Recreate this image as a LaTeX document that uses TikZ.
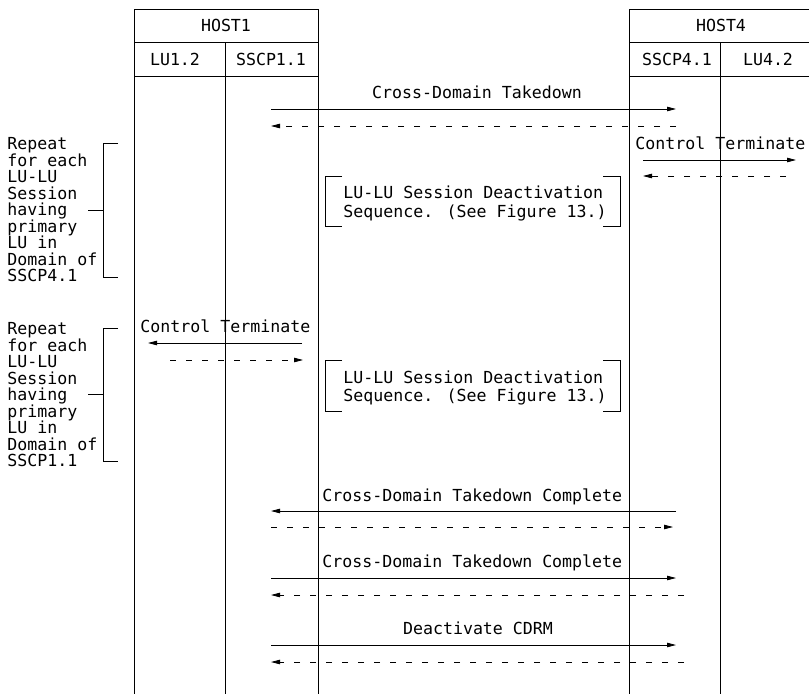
\documentclass[tikz,border=0pt]{standalone}
\usepackage{fontspec}
\newfontfamily\diafont{DejaVu Sans Mono}
\usetikzlibrary{arrows.meta}
\begin{document}
\begin{tikzpicture}[x=1pt,y=-1pt,
  line width=0.8pt,
  lbl/.style={font=\diafont\fontsize{16.6}{16.5}\selectfont, inner sep=0pt},
  blk/.style={lbl, align=left, anchor=north west},
  cell/.style={draw, minimum height=33.5pt, inner sep=0pt, line width=0.8pt},
  msg/.style={-{Triangle[length=9pt,width=4.5pt]}},
  reply/.style={msg, dash pattern=on 6pt off 10pt},
  brk/.style={line width=0.8pt},
]
\useasboundingbox (0,0) rectangle (809,694);

% ---------- header boxes ----------
\draw (134,9) rectangle (318,76);
\draw (134,42) -- (318,42);
\draw (225,42) -- (225,76);
\draw (818,9) -- (629,9) -- (629,76) -- (818,76);
\draw (629,42) -- (818,42);
\draw (720,42) -- (720,76);

\node[lbl, anchor=base] (host1) at (226,31.5) {HOST1};
\node[lbl, anchor=base] (lu12) at (175,65) {LU1.2};
\node[lbl, anchor=base] (sscp11) at (271,65) {SSCP1.1};
\node[lbl, anchor=base] (host4) at (721,31.5) {HOST4};
\node[lbl, anchor=base] (sscp41) at (677,65) {SSCP4.1};
\node[lbl, anchor=base] (lu42) at (768,65) {LU4.2};

% ---------- lifelines ----------
\coordinate (l1t) at (134,76);  \coordinate (l1b) at (134,694);
\coordinate (l2t) at (225,76);  \coordinate (l2b) at (225,694);
\coordinate (l3t) at (318,76);  \coordinate (l3b) at (318,694);
\coordinate (l4t) at (629,76);  \coordinate (l4b) at (629,694);
\coordinate (l5t) at (720,76);  \coordinate (l5b) at (720,694);
\draw (l1t) -- (l1b);
\draw (l2t) -- (l2b);
\draw (l3t) -- (l3b);
\draw (l4t) -- (l4b);
\draw (l5t) -- (l5b);

% ---------- Cross-Domain Takedown ----------
\node[lbl, anchor=base] (cdt) at (477,98) {Cross-Domain Takedown};
\coordinate (a1l) at (271,109); \coordinate (a1r) at (676,109);
\coordinate (a2l) at (271,126); \coordinate (a2r) at (676,126);
\draw[msg] (a1l) -- (a1r);
\draw[reply] (a2r) -- (a2l);

% ---------- Control Terminate (right) ----------
\node[lbl, anchor=base west] (ctr) at (635,149) {Control Terminate};
\coordinate (b1l) at (643,160); \coordinate (b1r) at (796,160);
\coordinate (b2l) at (643,176); \coordinate (b2r) at (786,176);
\draw[msg] (b1l) -- (b1r);
\draw[reply] (b2r) -- (b2l);

% ---------- left repeat text 1 ----------
\node[blk] (rep1) at (7,137) {Repeat\\for each\\LU-LU\\Session\\having\\primary\\LU in\\Domain of\\SSCP4.1};
\draw[brk] (118,143) -- (103,143) -- (103,277) -- (118,277);
\draw[brk] (88,210) -- (103,210);

% ---------- deactivation box 1 ----------
\node[blk, font=\diafont\fontsize{16.6}{18.5}\selectfont] (seq1) at (343,185.5) {LU-LU Session Deactivation\\Sequence. (See Figure 13.)};
\draw[brk] (342,176) -- (325,176) -- (325,226) -- (342,226);
\draw[brk] (603,176) -- (620,176) -- (620,226) -- (603,226);

% ---------- left repeat text 2 ----------
\node[blk] (rep2) at (7,322) {Repeat\\for each\\LU-LU\\Session\\having\\primary\\LU in\\Domain of\\SSCP1.1};
\draw[brk] (118,328) -- (103,328) -- (103,461) -- (118,461);
\draw[brk] (88,394) -- (103,394);

% ---------- Control Terminate (left) ----------
\node[lbl, anchor=base west] (ctl) at (140,332) {Control Terminate};
\coordinate (c1l) at (148,343); \coordinate (c1r) at (302,343);
\coordinate (c2l) at (170,360); \coordinate (c2r) at (303,360);
\draw[msg] (c1r) -- (c1l);
\draw[reply] (c2l) -- (c2r);

% ---------- deactivation box 2 ----------
\node[blk, font=\diafont\fontsize{16.6}{18.5}\selectfont] (seq2) at (343,370) {LU-LU Session Deactivation\\Sequence. (See Figure 13.)};
\draw[brk] (342,360) -- (325,360) -- (325,411) -- (342,411);
\draw[brk] (603,360) -- (620,360) -- (620,411) -- (603,411);

% ---------- Cross-Domain Takedown Complete (1) ----------
\node[lbl, anchor=base west] (cdc1) at (322,501) {Cross-Domain Takedown Complete};
\coordinate (d1l) at (271,511); \coordinate (d1r) at (676,511);
\coordinate (d2l) at (271,527); \coordinate (d2r) at (673,527);
\draw[msg] (d1r) -- (d1l);
\draw[reply] (d2l) -- (d2r);

% ---------- Cross-Domain Takedown Complete (2) ----------
\node[lbl, anchor=base west] (cdc2) at (322,567) {Cross-Domain Takedown Complete};
\coordinate (e1l) at (271,578); \coordinate (e1r) at (676,578);
\coordinate (e2l) at (271,595); \coordinate (e2r) at (684,595);
\draw[msg] (e1l) -- (e1r);
\draw[reply] (e2r) -- (e2l);

% ---------- Deactivate CDRM ----------
\node[lbl, anchor=base] (dcdrm) at (478,634) {Deactivate CDRM};
\coordinate (f1l) at (271,645); \coordinate (f1r) at (676,645);
\coordinate (f2l) at (271,662); \coordinate (f2r) at (684,662);
\draw[msg] (f1l) -- (f1r);
\draw[reply] (f2r) -- (f2l);
\end{tikzpicture}
\end{document}
